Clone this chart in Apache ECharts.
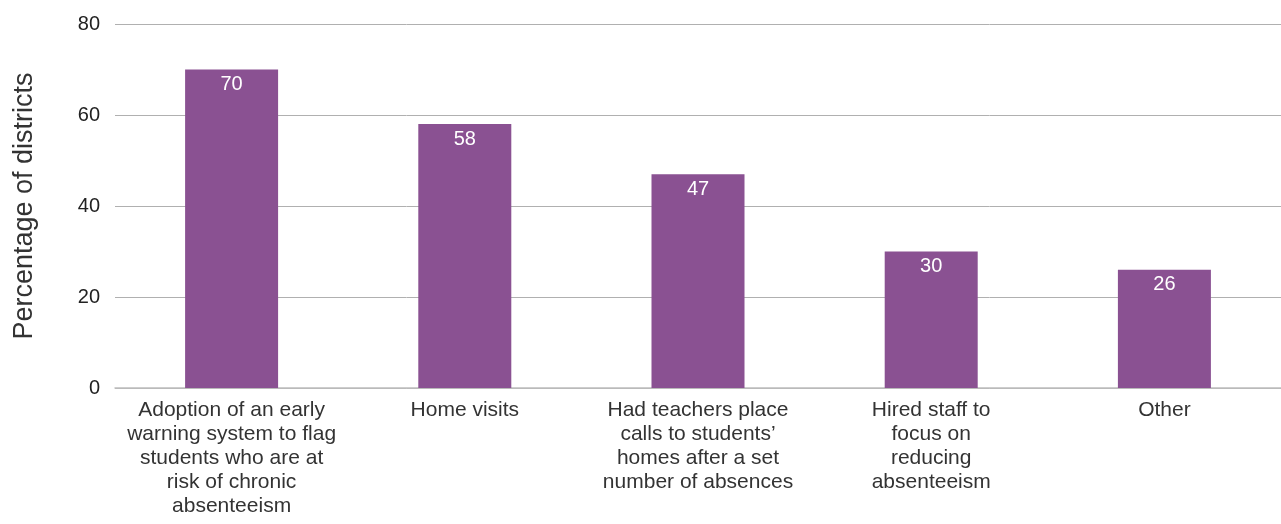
<!DOCTYPE html>
<html>
<head>
<meta charset="utf-8">
<script src="https://cdn.jsdelivr.net/npm/echarts@6/dist/echarts.min.js"></script>
<style>
  html, body { margin: 0; padding: 0; background: #fff; }
  #chart { width: 1281px; height: 524px; }
</style>
</head>
<body>
<div id="chart"></div>
<script>
// categories and values
const categories = [
  'Adoption of an early\nwarning system to flag\nstudents who are at\nrisk of chronic\nabsenteeism',
  'Home visits',
  'Had teachers place\ncalls to students’\nhomes after a set\nnumber of absences',
  'Hired staff to\nfocus on\nreducing\nabsenteeism',
  'Other'
]
const values = [70, 58, 47, 30, 26]
const yTicks = [0, 20, 40, 60, 80]

const font = 'Liberation Sans, Arial, Helvetica, sans-serif'
const barColor = '#8a5192'

const chart = echarts.init(document.getElementById('chart'), null, { renderer: 'canvas' })

const option = {
  animation: false,
  grid: {
    top: 24,
    bottom: 136,
    left: 115,
    right: 0
  },
  xAxis: {
    type: 'category',
    data: categories,
    axisTick: { show: false },
    axisLine: { lineStyle: { color: '#bdbdbd', width: 1.5 } },
    axisLabel: {
      color: '#333',
      fontFamily: font,
      fontSize: 21,
      lineHeight: 24,
      margin: 10,
      interval: 0
    }
  },
  yAxis: {
    type: 'value',
    min: yTicks[0],
    max: yTicks[yTicks.length - 1],
    interval: 20,
    name: 'Percentage of districts',
    nameLocation: 'middle',
    nameRotate: 90,
    nameGap: 77,
    nameTextStyle: { color: '#333', fontFamily: font, fontSize: 27 },
    axisLine: { show: false },
    axisTick: { show: false },
    splitLine: { lineStyle: { color: '#b0b0b0', width: 1 } },
    axisLabel: {
      color: '#222',
      fontFamily: font,
      fontSize: 20,
      margin: 15
    }
  },
  series: [{
    type: 'bar',
    data: values,
    barWidth: 93,
    itemStyle: { color: barColor },
    label: {
      show: true,
      position: 'insideTop',
      distance: 5,
      color: '#fff',
      fontFamily: font,
      fontSize: 20
    }
  }]
}

chart.setOption(option)
</script>
</body>
</html>
